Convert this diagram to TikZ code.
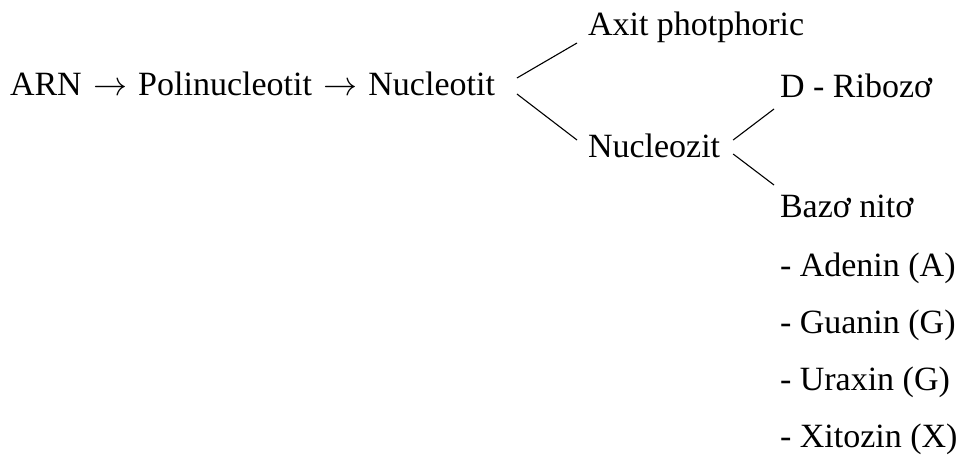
\RequirePackage{fix-cm}
\documentclass[tikz,border=0pt]{standalone}
\usepackage{fontspec}
\setmainfont{Liberation Serif}
\usepackage{tikz}
\usetikzlibrary{positioning}
\newcommand{\goesto}{\hspace{0.33em}${\rightarrow}$\hspace{0.33em}}
\tikzset{
  term/.style={inner sep=0pt,outer sep=0pt,anchor=base west,font=\fontsize{34}{40}\selectfont},
  branch/.style={draw=black,line width=1.1pt}
}

\begin{document}
\begin{tikzpicture}[x=1pt,y=-1pt]
\useasboundingbox[fill=white] (0,0) rectangle (962,466);

\node[term] (chain) at (10,95) {ARN\goesto Polinucleotit\goesto Nucleotit};
\node[term] (axit) at (588,35) {Axit photphoric};
\node[term] (nucleozit) at (588,157) {Nucleozit};
\node[term] (ribozo) at (780,97) {D - Ribozơ};
\node[term] (bazo) at (780,217) {Bazơ nitơ};

% the four bases, one per row
\node[term] (adenin) at (780,276) {- Adenin (A)};
\node[term] (guanin) at (780,333) {- Guanin (G)};
\node[term] (uraxin) at (780,390) {- Uraxin (G)};
\node[term] (xitozin) at (780,447) {- Xitozin (X)};

\draw[branch] ([shift={(22,-17)}]chain.base east) -- ([shift={(-11,8)}]axit.base west);
\draw[branch] ([shift={(22,-1)}]chain.base east) -- ([shift={(-11,-17)}]nucleozit.base west);
\draw[branch] ([shift={(13,-17)}]nucleozit.base east) -- ([shift={(-6,12)}]ribozo.base west);
\draw[branch] ([shift={(13,-3)}]nucleozit.base east) -- ([shift={(-6,-32)}]bazo.base west);
\end{tikzpicture}
\end{document}
